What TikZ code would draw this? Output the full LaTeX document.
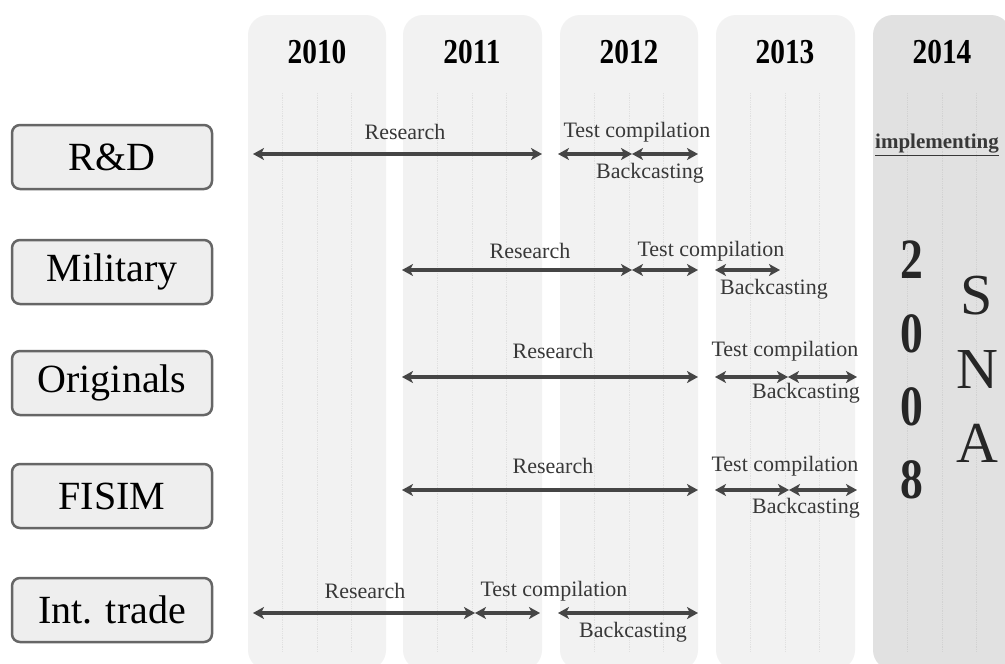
\documentclass[tikz,border=0pt]{standalone}
\usepackage{fontspec}
\setmainfont{Liberation Serif}
\usetikzlibrary{arrows.meta}
\definecolor{colfill}{HTML}{F2F2F2}
\definecolor{colfilldark}{HTML}{E1E1E1}
\definecolor{gridc}{HTML}{E0E0E0}
\definecolor{gridcdark}{HTML}{D2D2D2}
\definecolor{boxfill}{HTML}{EEEEEE}
\definecolor{boxborder}{HTML}{666666}
\definecolor{arrowgray}{HTML}{454545}
\definecolor{labelgray}{HTML}{383838}
\begin{document}
\begin{tikzpicture}[x=1pt,y=-1pt,
  col/.style={fill=colfill, draw=none, rounded corners=20pt},
  coldark/.style={fill=colfilldark, draw=none, rounded corners=20pt},
  gridline/.style={draw=gridc, line width=0.8pt, densely dotted},
  gridlinedark/.style={draw=gridcdark, line width=0.8pt, densely dotted},
  year/.style={font=\bfseries\fontsize{35}{38}\selectfont, inner sep=0pt},
  cat/.style={rectangle, rounded corners=8pt, draw=boxborder, line width=2.5pt,
    fill=boxfill, minimum width=200pt, minimum height=64pt, inner sep=0pt,
    font=\fontsize{40}{44}\selectfont},
  lbl/.style={font=\fontsize{22}{24}\selectfont, text=labelgray, inner sep=0pt},
  span/.style={{Stealth[length=11pt,width=12pt,inset=3pt]}-{Stealth[length=11pt,width=12pt,inset=3pt]},
    line width=4pt, draw=arrowgray},
  big/.style={font=\bfseries\fontsize{57}{60}\selectfont, text=black!85, inner sep=0pt},
  bigsna/.style={font=\fontsize{58}{60}\selectfont, text=black!85, inner sep=0pt}
]
\useasboundingbox (0,0) rectangle (1005,664);
\fill[white] (0,0) rectangle (1005,664);

% columns
\fill[col] (248,15) rectangle (386,670);
\fill[col] (403,15) rectangle (542,670);
\fill[col] (560,15) rectangle (698,670);
\fill[col] (716,15) rectangle (855,670);
\fill[coldark] (873,15) rectangle (1011,670);

% grid lines
\foreach \x in {248,403,560,716}{
  \foreach \k in {1,2,3}{
    \draw[gridline] (\x+34.6*\k,93) -- (\x+34.6*\k,652);
  }
}
\foreach \k in {1,2,3}{
  \draw[gridlinedark] (873+34.6*\k,93) -- (873+34.6*\k,652);
}

% years
\node[year] (y2010) at (317,52) {\scalebox{0.84}[1]{2010}};
\node[year] (y2011) at (472,52) {\scalebox{0.84}[1]{2011}};
\node[year] (y2012) at (629,52) {\scalebox{0.84}[1]{2012}};
\node[year] (y2013) at (785,52) {\scalebox{0.84}[1]{2013}};
\node[year] (y2014) at (942,52) {\scalebox{0.84}[1]{2014}};

% category boxes
\node[cat] (rd) at (112,157) {R\&D};
\node[cat] (mil) at (112,272) {Military};
\node[cat] (orig) at (112,383) {Originals};
\node[cat] (fisim) at (112,496) {FISIM};
\node[cat] (trade) at (112,610) {Int. trade};

% row 1: R&D
\coordinate (a1) at (253,154); \coordinate (b1) at (542,154);
\coordinate (c1) at (558,154); \coordinate (d1) at (632,154); \coordinate (e1) at (698,154);
\draw[span] (a1) -- (b1);
\draw[span] (c1) -- (d1);
\draw[span] (d1) -- (e1);
\node[lbl] (r1) at (405,132) {Research};
\node[lbl] (t1) at (637,132) {Test compilation};
\node[lbl] (k1) at (650,173) {Backcasting};

% row 2: Military
\coordinate (a2) at (402,270); \coordinate (b2) at (632,270); \coordinate (c2) at (698,270);
\coordinate (d2) at (715,270); \coordinate (e2) at (780,270);
\draw[span] (a2) -- (b2);
\draw[span] (b2) -- (c2);
\draw[span] (d2) -- (e2);
\node[lbl] (r2) at (530,251) {Research};
\node[lbl] (t2) at (711,251) {Test compilation};
\node[lbl] (k2) at (774,289) {Backcasting};

% row 3: Originals
\coordinate (a3) at (402,377); \coordinate (b3) at (698,377);
\coordinate (c3) at (715,377); \coordinate (d3) at (788,377); \coordinate (e3) at (857,377);
\draw[span] (a3) -- (b3);
\draw[span] (c3) -- (d3);
\draw[span] (d3) -- (e3);
\node[lbl] (r3) at (553,351) {Research};
\node[lbl] (t3) at (785,351) {Test compilation};
\node[lbl] (k3) at (806,393) {Backcasting};

% row 4: FISIM
\coordinate (a4) at (402,490); \coordinate (b4) at (698,490);
\coordinate (c4) at (715,490); \coordinate (d4) at (789,490); \coordinate (e4) at (857,490);
\draw[span] (a4) -- (b4);
\draw[span] (c4) -- (d4);
\draw[span] (d4) -- (e4);
\node[lbl] (r4) at (553,466) {Research};
\node[lbl] (t4) at (785,466) {Test compilation};
\node[lbl] (k4) at (806,508) {Backcasting};

% row 5: Int. trade
\coordinate (a5) at (253,613); \coordinate (b5) at (475,613); \coordinate (c5) at (540,613);
\coordinate (d5) at (558,613); \coordinate (e5) at (698,613);
\draw[span] (a5) -- (b5);
\draw[span] (b5) -- (c5);
\draw[span] (d5) -- (e5);
\node[lbl] (r5) at (365,591) {Research};
\node[lbl] (t5) at (554,591) {Test compilation};
\node[lbl] (k5) at (633,632) {Backcasting};

% implementing
\node[lbl, font=\bfseries\fontsize{21}{24}\selectfont, anchor=west] (impl) at (875,145) {\underline{implementing}};

% 2008 SNA
\node[big] (sd1) at (912,260) {\scalebox{0.8}[1]{2}};
\node[big] (sd2) at (912,334) {\scalebox{0.8}[1]{0}};
\node[big] (sd3) at (912,407) {\scalebox{0.8}[1]{0}};
\node[big] (sd4) at (912,480) {\scalebox{0.8}[1]{8}};
\node[bigsna] (snas) at (977,296) {S};
\node[bigsna] (snan) at (977,370) {N};
\node[bigsna] (snaa) at (977,443) {A};
\end{tikzpicture}
\end{document}
